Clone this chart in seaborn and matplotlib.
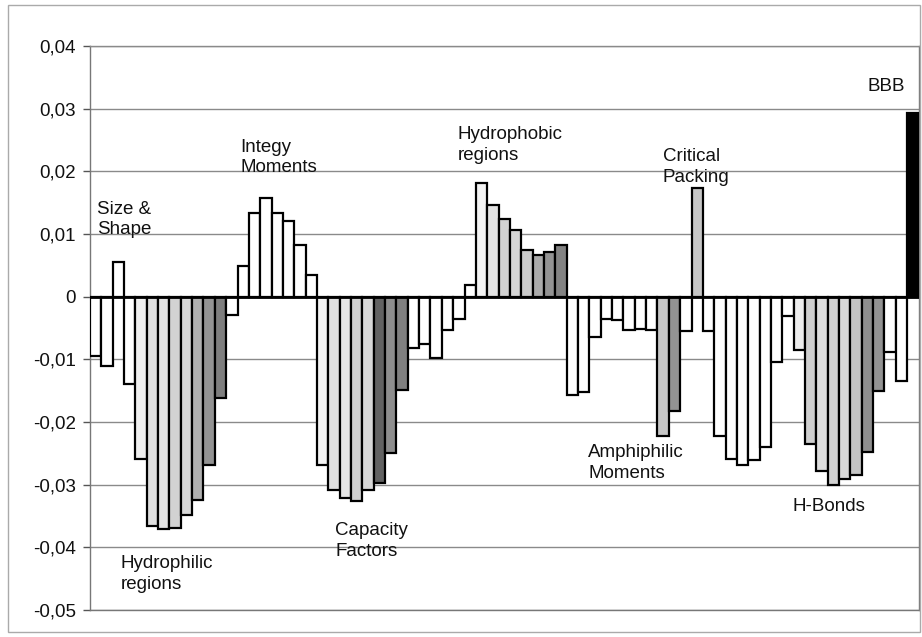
import numpy as np
import pandas as pd
import matplotlib
matplotlib.use("Agg")
import matplotlib.pyplot as plt
from matplotlib.patches import Rectangle
from matplotlib.ticker import FuncFormatter
import seaborn as sns

# Regression coefficients of the VolSurf descriptors, in model order
size_shape = [-0.0094, -0.0110, 0.0056, -0.0140]
hydrophilic = [-0.0259, -0.0366, -0.0370, -0.0369, -0.0348, -0.0325, -0.0268, -0.0161]
integy = [-0.0029, 0.0049, 0.0133, 0.0157, 0.0134, 0.0120, 0.0083, 0.0035]
capacity = [-0.0268, -0.0308, -0.0321, -0.0326, -0.0308, -0.0297, -0.0250, -0.0149]
misc_a = [-0.0082, -0.0075, -0.0098, -0.0053, -0.0036, 0.0019]
hydrophobic = [0.0181, 0.0147, 0.0124, 0.0106, 0.0074, 0.0067, 0.0072, 0.0083]
amphiphilic = [-0.0157, -0.0152, -0.0065, -0.0035, -0.0037, -0.0053, -0.0052, -0.0053,
               -0.0223, -0.0183, -0.0054]
critical_packing = [0.0173]
misc_b = [-0.0054, -0.0223, -0.0259, -0.0268, -0.0260, -0.0240, -0.0104, -0.0031]
hbonds = [-0.0085, -0.0235, -0.0278, -0.0300, -0.0291, -0.0285, -0.0248, -0.0150]
misc_c = [-0.0088, -0.0135]
bbb = [0.0293]

values = (size_shape + hydrophilic + integy + capacity + misc_a + hydrophobic
          + amphiphilic + critical_packing + misc_b + hbonds + misc_c + bbb)

# Fill shade of each bar (grey ramps mark the probe-level series)
W = "#ffffff"
shades = ([W] * 4
          + ["#efefef", "#dedede", "#e4e4e4", "#d2d2d2", "#d8d8d8", "#b0b0b0", "#939393", "#7e7e7e"]
          + [W] * 8
          + ["#f3f3f3", "#e0e0e0", "#e6e6e6", "#cfcfcf", "#d8d8d8", "#626262", "#8e8e8e", "#808080"]
          + [W] * 6
          + ["#f3f3f3", "#e3e3e3", "#d2d2d2", "#d6d6d6", "#cbcbcb", "#ababab", "#939393", "#838383"]
          + [W] * 8 + ["#c6c6c6", "#939393", W]
          + ["#c6c6c6"]
          + [W] * 8
          + ["#ededed", "#cfcfcf", "#dddddd", "#d2d2d2", "#d8d8d8", "#c4c4c4", "#8e8e8e", "#939393"]
          + [W] * 2
          + ["#000000"])

labels = [
    ("Size &\nShape", 0.12, 0.0123),
    ("Integy\nMoments", 12.72, 0.0222),
    ("Hydrophobic\nregions", 31.92, 0.0242),
    ("Critical\nPacking", 49.98, 0.0207),
    ("BBB", 68.05, 0.0336),
    ("Hydrophilic\nregions", 2.23, -0.0443),
    ("Capacity\nFactors", 21.09, -0.0390),
    ("Amphiphilic\nMoments", 43.38, -0.0265),
    ("H-Bonds", 61.44, -0.0335),
]

sns.set_theme(style="white")
plt.rcParams["font.family"] = ["Liberation Sans", "DejaVu Sans"]

fig = plt.figure(figsize=(9.22, 6.37), dpi=100)
ax = fig.add_axes([90 / 922, 1 - 610 / 637, (918.5 - 90) / 922, (610 - 46) / 637])

df = pd.DataFrame({"descriptor": np.arange(len(values)), "weight": values})
palette = {i: c for i, c in enumerate(shades)}
sns.barplot(data=df, x="descriptor", y="weight", hue="descriptor", palette=palette,
            legend=False, width=1.0, edgecolor="black", linewidth=1.6,
            saturation=1.0, ax=ax, zorder=3)

ax.set_xlim(-0.5, len(values) - 0.5)
ax.set_ylim(-0.05, 0.04)
ax.set_yticks(np.round(np.arange(-0.05, 0.0401, 0.01), 2))
ax.yaxis.set_major_formatter(
    FuncFormatter(lambda v, _: "0" if abs(v) < 1e-9 else f"{v:.2f}".replace(".", ",")))
ax.set_xticks([])
ax.set_xlabel("")
ax.set_ylabel("")
ax.yaxis.grid(True, color="#8a8a8a", linewidth=1.0)
ax.set_axisbelow(True)
ax.axhline(0, color="black", linewidth=2.0, zorder=4)

ax.tick_params(axis="y", which="major", left=True, length=5, width=1, color="#555555",
               labelsize=13.5, labelcolor="#111111", pad=5)
for side in ("left", "bottom", "right"):
    ax.spines[side].set_visible(True)
    ax.spines[side].set_color("#777777")
    ax.spines[side].set_linestyle((0, (1, 1)))
    ax.spines[side].set_linewidth(1.0)
ax.spines["top"].set_color("#8a8a8a")
ax.spines["top"].set_linewidth(1.0)

for text, x, y in labels:
    ax.text(x, y, text, ha="left", va="center", fontsize=13.5, color="#111111",
            linespacing=1.28, zorder=5)

fig.patches.append(Rectangle((8 / 922, 5 / 637), (920 - 8) / 922, (632 - 5) / 637,
                             transform=fig.transFigure, fill=False,
                             edgecolor="#aaaaaa", linewidth=1.0))

fig.savefig("out.png", dpi=100, facecolor="white")
